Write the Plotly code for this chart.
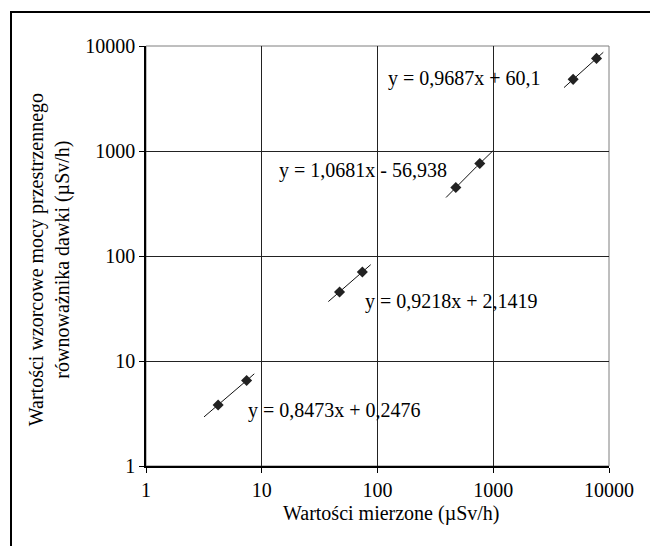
import numpy as np
import plotly.graph_objects as go

# measured values (µSv/h) and reference values
x_measured = [4.2, 7.4, 47, 74, 475, 765, 4900, 7800]
y_reference = [3.81, 6.52, 45.5, 70.4, 450, 760, 4810, 7620]

# linear trendlines per range
slopes = [0.8473, 0.9218, 1.0681, 0.9687]
intercepts = [0.2476, 2.1419, -56.938, 60.1]
trend_x_start = [3.17, 37.6, 391, 4085]
trend_x_end = [8.62, 87.4, 989, 8930]
equations = ["y = 0,8473x + 0,2476", "y = 0,9218x + 2,1419",
             "y = 1,0681x - 56,938", "y = 0,9687x + 60,1"]

tick_vals = [1, 10, 100, 1000, 10000]
tick_text = ["1", "10", "100", "1000", "10000"]

x_title = "Wartości mierzone (µSv/h)"
y_title = "Wartości wzorcowe mocy przestrzennego<br>równoważnika dawki (µSv/h)"

FONT = "Liberation Serif, Times New Roman, serif"
FS = 20

# page body has an 8px margin; figure is sized to fit the window
W, H = 650, 538
L, T = 138, 38
PW, PH = 463, 420

fig = go.Figure()

for a, b, xs, xe in zip(slopes, intercepts, trend_x_start, trend_x_end):
    xx = np.geomspace(xs, xe, 30)
    fig.add_trace(go.Scatter(x=xx, y=a * xx + b, mode="lines",
                             line=dict(color="#111111", width=1),
                             showlegend=False, hoverinfo="skip"))

fig.add_trace(go.Scatter(x=x_measured, y=y_reference, mode="markers",
                         marker=dict(symbol="diamond", size=8.5, color="#222222"),
                         showlegend=False))

axis_common = dict(
    type="log", range=[0, 4], tickvals=tick_vals, ticktext=tick_text,
    showgrid=True, gridcolor="#222222", gridwidth=1,
    showline=True, linecolor="#000000", linewidth=1.5,
    ticks="outside", ticklen=5, tickcolor="#000000", tickwidth=1,
    tickfont=dict(family=FONT, size=FS, color="#000000"),
    zeroline=False,
)
fig.update_xaxes(**axis_common)
fig.update_yaxes(**axis_common)

# label positions (log10 units on log axes)
label_pos = [(0.861, 0.533, "left"), (1.872, 1.565, "left"),
             (1.132, 2.819, "left"), (3.43, 3.686, "right")]
for txt, (lx, ly, anc) in zip(equations, label_pos):
    fig.add_annotation(x=lx, y=ly, xref="x", yref="y", text=txt,
                       showarrow=False, xanchor=anc, yanchor="middle",
                       font=dict(family=FONT, size=FS, color="#000000"))

fig.add_annotation(x=0.531, y=-0.112, xref="paper", yref="paper", text=x_title,
                   showarrow=False, xanchor="center", yanchor="middle",
                   font=dict(family=FONT, size=FS, color="#000000"))
fig.add_annotation(x=(41 - L) / PW, y=0.49, xref="paper", yref="paper", text=y_title,
                   showarrow=False, xanchor="center", yanchor="middle", textangle=-90,
                   font=dict(family=FONT, size=FS, color="#000000"))

# plot frame (top/right) in gray
fig.add_shape(type="rect", xref="paper", yref="paper", x0=0, y0=0, x1=1, y1=1,
              line=dict(color="#7f7f7f", width=1), layer="below")
# outer chart border
fig.add_shape(type="rect", xref="paper", yref="paper",
              x0=(3 - L) / PW, y0=(PH - 560) / PH,
              x1=(670 - L) / PW, y1=1 + (T - 4) / PH,
              line=dict(color="#000000", width=2))

fig.update_layout(
    width=W, height=H,
    margin=dict(l=L, r=W - L - PW, t=T, b=H - T - PH),
    paper_bgcolor="white", plot_bgcolor="white",
    font=dict(family=FONT, color="#000000"),
)

fig.write_html("out.html")
